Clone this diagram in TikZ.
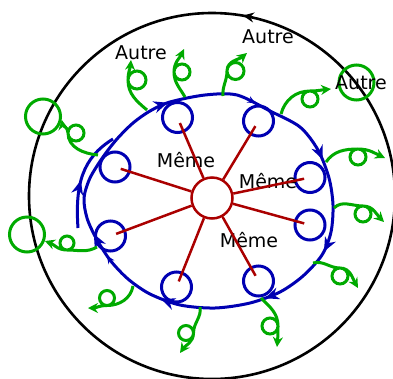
\documentclass[tikz,border=0pt]{standalone}
\usepackage{fontspec}
\setmainfont{DejaVu Sans}
\usetikzlibrary{arrows.meta,decorations.markings}
\definecolor{sameblue}{RGB}{0,0,178}
\definecolor{samered}{RGB}{170,0,0}
\definecolor{othergreen}{RGB}{0,170,0}

\begin{document}
\begin{tikzpicture}[x=1pt,y=1pt,>=Stealth,
    word/.style={font=\fontsize{19}{22}\selectfont,anchor=base,inner sep=0pt},
    eddy/.style={circle,draw=sameblue,line width=3pt,minimum size=30pt,inner sep=0pt},
    other/.style={circle,draw=othergreen,line width=3pt,minimum size=35pt,inner sep=0pt},
    spoke/.style={samered,line width=2.5pt,shorten >=6pt},
    drift/.style={othergreen,line width=3pt,-{Stealth[length=10pt,width=10pt]}},
    tip/.style={postaction={decorate,decoration={markings,
      mark=at position #1 with {\arrow{Stealth[length=14pt,width=12pt]}}}}},
    smalltip/.style={postaction={decorate,decoration={markings,
      mark=at position #1 with {\arrow{Stealth[length=8pt,width=7pt]}}}}}]
  \useasboundingbox (0,0) rectangle (393,-378);

  \draw[line width=2.6pt,postaction={decorate,decoration={markings,
      mark=at position 0.223 with {\arrow{Stealth[length=11pt,width=10pt]}}}}]
    (212,-196) circle[radius=183];

  \draw[sameblue,line width=3pt,smalltip=0.028,tip=0.153,tip=0.284,tip=0.39,
      tip=0.537,smalltip=0.634,tip=0.669,tip=0.903]
    plot[smooth cycle] coordinates {(205,-95) (237,-95) (270,-111) (300,-127)
      (318,-150) (329,-178) (333,-205) (331,-232) (322,-255) (303,-276)
      (280,-292) (250,-303) (215,-308) (180,-305) (150,-294) (128,-279)
      (110,-260) (96,-238) (87,-218) (84,-198) (90,-178) (103,-157)
      (117,-139) (133,-123) (150,-111) (170,-102)};
  \draw[sameblue,line width=3pt,tip=0.47]
    (78,-228) .. controls (75,-185) and (82,-158) .. (113,-139);

  \node[eddy] (m1) at (177.5,-117.5) {};
  \node[eddy] (m2) at (258.5,-121) {};
  \node[eddy] (m3) at (310,-177.5) {};
  \node[eddy] (m4) at (310,-225) {};
  \node[eddy] (m5) at (258.5,-281) {};
  \node[eddy] (m6) at (176.5,-287) {};
  \node[eddy] (m7) at (110.5,-236) {};
  \node[eddy] (m8) at (115,-167) {};

  \node[word] (s1) at (186,-167) {Même};
  \node[word] (s2) at (268,-188) {Même};
  \node[word] (s3) at (249,-247) {Même};

  \node[circle,draw=samered,line width=2.5pt,minimum size=41pt,inner sep=0pt] (M) at (212,-198) {};
  \foreach \i in {1,...,8}
    \draw[spoke] (M) -- (m\i.center);

  \node[other] (A1) at (43,-116.5) {};
  \node[other] (A2) at (27,-234.5) {};
  \node[other] (A3) at (356.5,-82.5) {};

  \coordinate (g1) at (147,-110);   \coordinate (e1) at (131,-60);
  \coordinate (g2) at (185,-97);    \coordinate (e2) at (184,-49);
  \coordinate (g3) at (223,-96);    \coordinate (e3) at (247,-53);
  \coordinate (g4) at (281,-114);   \coordinate (e4) at (331,-89);
  \coordinate (g5) at (326,-162);   \coordinate (e5) at (385,-158);
  \coordinate (g6) at (334,-208);   \coordinate (e6) at (384,-222);
  \coordinate (g7) at (313,-263);   \coordinate (e7) at (358,-288);
  \coordinate (g8) at (261,-298);   \coordinate (e8) at (277,-347);
  \coordinate (g9) at (200,-307);   \coordinate (e9) at (180,-353);
  \coordinate (g10) at (133,-286);  \coordinate (e10) at (88,-308);
  \coordinate (g11) at (97,-247);
  \coordinate (g12) at (98,-155);

  \draw[drift] (g1) to[out=140,in=-90] (128,-80)
    arc[start angle=180,delta angle=-360,radius=9] to[out=90,in=-95] (e1);
  \draw[drift] (g2) to[out=120,in=-90] (174,-72)
    arc[start angle=180,delta angle=-360,radius=8] to[out=90,in=-115] (e2);
  \draw[drift] (g3) to[out=95,in=-90] (227,-71)
    arc[start angle=180,delta angle=-360,radius=8.5] to[out=90,in=-140] (e3);
  \draw[drift] (g4) to[out=75,in=180] (310,-91)
    arc[start angle=90,delta angle=-360,radius=8] to[out=0,in=185] (e4);
  \draw[drift] (g5) to[out=55,in=180] (358,-149)
    arc[start angle=90,delta angle=-360,radius=8] to[out=0,in=155] (e5);
  \draw[drift] (g6) to[out=45,in=180] (363,-206)
    arc[start angle=90,delta angle=-360,radius=8] to[out=0,in=135] (e6);
  \draw[drift] (g7) to[out=15,in=180] (340,-268)
    arc[start angle=90,delta angle=-360,radius=8] to[out=0,in=120] (e7);
  \draw[drift] (g8) to[out=-45,in=90] (278,-326)
    arc[start angle=0,delta angle=-360,radius=8] to[out=-90,in=85] (e8);
  \draw[drift] (g9) to[out=-80,in=90] (193.5,-333)
    arc[start angle=0,delta angle=-360,radius=7.5] to[out=-90,in=55] (e9);
  \draw[drift] (g10) to[out=-100,in=0] (107,-305.5)
    arc[start angle=-90,delta angle=-360,radius=7.5] to[out=180,in=0] (e10);
  \draw[drift] (g11) to[out=-150,in=0] (67,-250)
    arc[start angle=-90,delta angle=-360,radius=7] to[out=180,in=-20] (A2.-20);
  \draw[drift] (g12) to[out=175,in=-90] (68,-133)
    arc[start angle=180,delta angle=-360,radius=8] to[out=90,in=-80] (A1.-10);

  \node[word] (a1) at (141,-59) {Autre};
  \node[word] (a2) at (268,-43) {Autre};
  \node[word] (a3) at (361,-89) {Autre};
\end{tikzpicture}
\end{document}
